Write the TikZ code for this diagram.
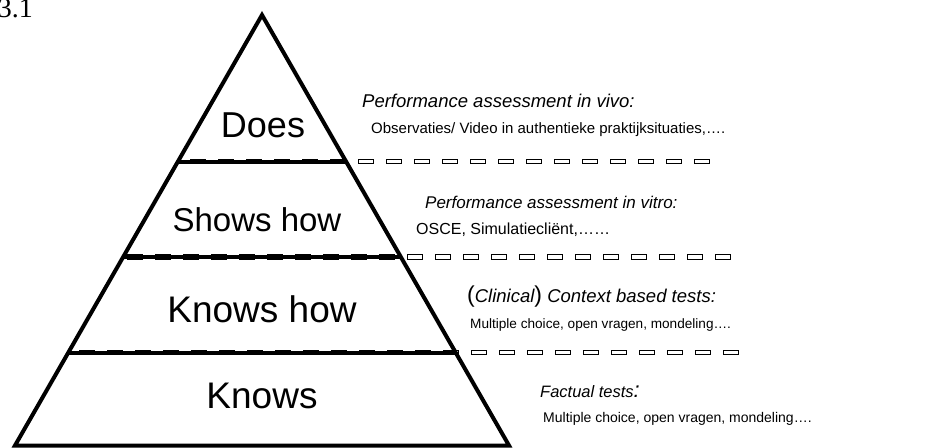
\documentclass[tikz,border=0pt]{standalone}
\usepackage{fontspec}
\setmainfont{Liberation Sans}
\newfontfamily\numfont{Liberation Serif}
\usetikzlibrary{calc}
\newcommand{\fs}[1]{\fontsize{#1}{#1}\selectfont}
\begin{document}
\begin{tikzpicture}[x=1pt,y=-1pt,
  outline/.style={line width=4pt, line join=miter},
  divider/.style={line width=4pt},
  dashbox/.style={draw=black, fill=white, line width=0.8pt},
  level/.style={inner sep=0pt, anchor=base, font=\fs{36}},
  head/.style={inner sep=0pt, anchor=base west, font=\itshape},
  body/.style={inner sep=0pt, anchor=base west}]
\useasboundingbox (0,0) rectangle (950,447);

% corners of the pyramid
\coordinate (apex) at (262,15);
\coordinate (bl) at (15,445.5);
\coordinate (br) at (509,445.5);

% outlined dash rows (drawn first, the solid dividers sit on top)
\foreach \y/\x/\n in {161.5/190/18, 257/127/21, 352.5/79/23}
  \foreach \k in {0,...,\n}
    \draw[dashbox] (\x+28*\k, \y-2.4) rectangle ++(15,4.4);

% pyramid and its level dividers
\draw[outline] (apex) -- (br) -- (bl) -- cycle;
\draw[divider] ($(apex)!0.3403!(bl)$) -- ($(apex)!0.3403!(br)$);
\draw[divider] ($(apex)!0.5621!(bl)$) -- ($(apex)!0.5621!(br)$);
\draw[divider] ($(apex)!0.7840!(bl)$) -- ($(apex)!0.7840!(br)$);

% level names
\node[level] (does) at (263,137) {Does};
\node[level, font=\fs{33}] (shows) at (257,231) {Shows how};
\node[level, font=\fs{37}] (knowshow) at (262,322) {Knows how};
\node[level, font=\fs{37}] (knows) at (262,408) {Knows};

% assessment methods per level
\node[head, font=\itshape\fs{18.5}] (h1) at (362,107) {Performance assessment in vivo:};
\node[body, font=\fs{15}] (b1) at (371,133) {Observaties/ Video in authentieke praktijksituaties,….};
\node[head, font=\itshape\fs{17}] (h2) at (425,208) {Performance assessment in vitro:};
\node[body, font=\fs{16}] (b2) at (416,234) {OSCE, Simulatiecliënt,……};
\node[head, font=\itshape\fs{18.5}] (h3) at (467,302) {{\upshape\fs{23}(}Clinical{\upshape\fs{23})} Context based tests:};
\node[body, font=\fs{13.6}] (b3) at (470,328) {Multiple choice, open vragen, mondeling….};
\node[head, font=\itshape\fs{16.5}] (h4) at (540,397) {Factual tests{\fs{22}:}};
\node[body, font=\fs{14}] (b4) at (543,422) {Multiple choice, open vragen, mondeling….};

% figure number
\node[inner sep=0pt, anchor=base east, font=\numfont\fs{28}] (fignum) at (33,17) {3.1};
\end{tikzpicture}
\end{document}
